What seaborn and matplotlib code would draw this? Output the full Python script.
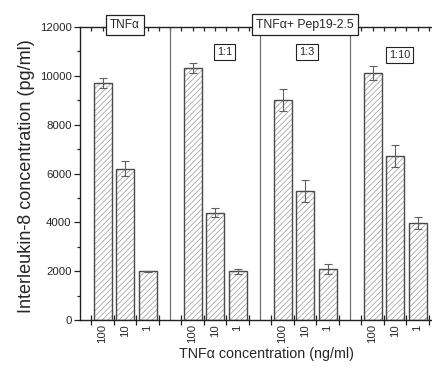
import numpy as np
import pandas as pd
import matplotlib
matplotlib.use("Agg")
import matplotlib.pyplot as plt
import seaborn as sns

# IL-8 release per treatment group and TNF-alpha dose
groups = ["TNFα", "1:1", "1:3", "1:10"]
doses = ["100", "10", "1"]
il8_mean = [
    [9720, 6200, 2000],    # TNF-alpha alone
    [10330, 4400, 1990],   # + Pep19-2.5, 1:1
    [9000, 5300, 2090],    # + Pep19-2.5, 1:3
    [10130, 6700, 3960],   # + Pep19-2.5, 1:10
]
il8_err = [
    [200, 300, 25],
    [200, 180, 100],
    [450, 450, 220],
    [290, 450, 240],
]
header_labels = ["TNFα", "TNFα+ Pep19-2.5"]
ratio_labels = ["1:1", "1:3", "1:10"]

sns.set_theme(style="white")
plt.rcParams["font.family"] = ["Liberation Sans", "DejaVu Sans"]
plt.rcParams["hatch.linewidth"] = 0.6

# Build a long table with one empty slot between consecutive groups
rows, order = [], []
for gi, g in enumerate(groups):
    for di, d in enumerate(doses):
        key = f"{g}|{d}"
        order.append(key)
        rows.append({"slot": key, "il8": il8_mean[gi][di], "err": il8_err[gi][di], "dose": d})
    if gi < len(groups) - 1:
        order.append(f"gap{gi}")
df = pd.DataFrame(rows)

fig = plt.figure(figsize=(4.32, 3.67), dpi=100)
W, H = 432, 367
x0, x1, y0, y1 = 80, 440, 27, 320
ax = fig.add_axes([x0 / W, 1 - y1 / H, (x1 - x0) / W, (y1 - y0) / H])

# hatched fill
sns.barplot(data=df, x="slot", y="il8", order=order, color="white",
            edgecolor="#a8a8a8", linewidth=0, errorbar=None, ax=ax)
for p in ax.patches:
    p.set_hatch("//////")
# outlines
sns.barplot(data=df, x="slot", y="il8", order=order, fill=False,
            edgecolor="#4a4a4a", linewidth=1.0, errorbar=None, ax=ax)

pos = {k: i for i, k in enumerate(order)}
xs = [pos[s] for s in df["slot"]]
ax.errorbar(xs, df["il8"], yerr=df["err"], fmt="none", ecolor="#606060",
            elinewidth=0.8, capsize=2.6, capthick=0.8, zorder=5)

n = len(order)
ax.set_xlim(-1, n)
ax.set_ylim(0, 12000)

# group separators
for gi in range(len(groups) - 1):
    ax.axvline(pos[f"gap{gi}"], color="#707070", lw=0.9, zorder=1)

# spines
for s in ["left", "bottom", "top", "right"]:
    ax.spines[s].set_color("#222222")
    ax.spines[s].set_linewidth(1.0)

# y axis ticks
ax.set_yticks(np.arange(0, 12001, 2000))
ax.set_yticks(np.arange(1000, 12000, 2000), minor=True)
ax.tick_params(axis="y", which="major", direction="out", length=4, width=0.9,
               color="#222222", labelsize=8.2, pad=2, left=True)
ax.tick_params(axis="y", which="minor", direction="out", length=2.2, width=0.9,
               color="#222222", left=True)

# x axis: boundary ticks crossing the axis, labels under bar centres
bar_pos = [pos[f"{g}|{d}"] for g in groups for d in doses]
ax.set_xticks(np.arange(-0.5, n, 1.0))
ax.set_xticklabels([])
ax.set_xticks(bar_pos, minor=True)
ax.set_xticklabels(doses * len(groups), minor=True, rotation=90)
ax.tick_params(axis="x", which="major", direction="inout", length=7, width=0.9,
               color="#222222", bottom=True, top=False)
ax.tick_params(axis="x", which="minor", length=0, labelsize=8.2, pad=3,
               bottom=True)
for lbl in ax.get_xticklabels(minor=True):
    lbl.set_verticalalignment("top")

# top axis ticks every half slot, pointing inward
top = ax.secondary_xaxis("top")
top.set_xticks(np.arange(-0.5, n, 0.5))
top.set_xticklabels([])
top.tick_params(direction="in", length=3, width=0.9, color="#222222")
top.spines["top"].set_visible(False)

ax.set_xlabel("TNFα concentration (ng/ml)", fontsize=10.3)
ax.xaxis.set_label_coords((266 - x0) / (x1 - x0), (y1 - 354) / (y1 - y0))
ax.xaxis.label.set_verticalalignment("center")
ax.set_ylabel("Interleukin-8 concentration (pg/ml)", fontsize=13)
ax.yaxis.set_label_coords((27 - x0) / (x1 - x0), 0.49)
ax.yaxis.label.set_verticalalignment("center")

box = dict(boxstyle="square,pad=0.35", fc="white", ec="#222222", lw=0.9)
ax.text(pos["TNFα|10"], 12070, header_labels[0], ha="center", va="center",
        fontsize=8.5, bbox=box, zorder=10, clip_on=False)
ax.text(pos["1:3|10"], 12100, header_labels[1], ha="center", va="center",
        fontsize=8.8, bbox=box, zorder=10, clip_on=False)
small_box = dict(boxstyle="square,pad=0.3", fc="white", ec="#222222", lw=0.8)
ratio_xy = [(pos["1:1|10"] + 0.42, 10980), (pos["1:3|10"] + 0.1, 10980),
            (pos["1:10|10"] + 0.2, 10850)]
for (rx, ry), t in zip(ratio_xy, ratio_labels):
    ax.text(rx, ry, t, ha="center", va="center", fontsize=7.8, bbox=small_box,
            zorder=10)

fig.savefig("out.png", dpi=100)
